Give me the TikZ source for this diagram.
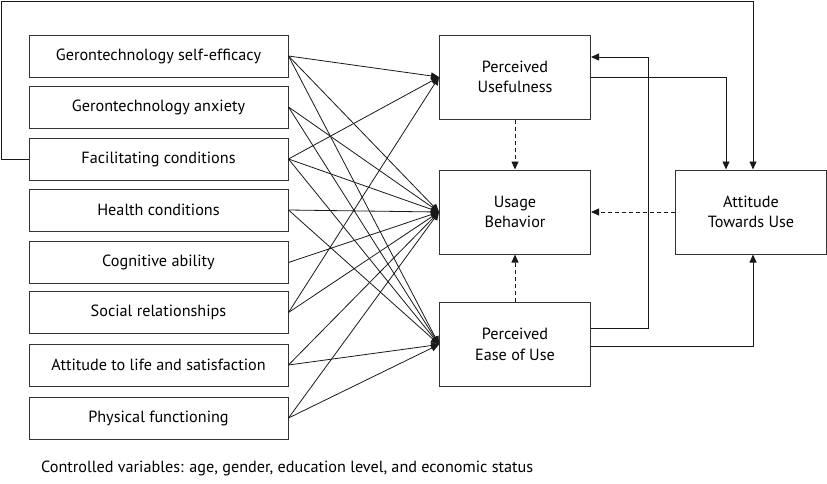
\documentclass[tikz,border=0pt]{standalone}
\usepackage{fontspec}
\setmainfont{PT Sans}
\usetikzlibrary{arrows.meta}

\begin{document}
\begin{tikzpicture}[x=1pt, y=-1pt,
    factor/.style={draw=black!80, line width=1pt, minimum width=259pt, minimum height=42pt,
      inner sep=0pt, font=\fontsize{16.2}{20.5}\selectfont},
    construct/.style={draw=black!80, line width=1pt, minimum width=151pt, minimum height=84pt,
      inner sep=0pt, align=center, font=\fontsize{16.2}{20.5}\selectfont},
    link/.style={draw=black!90, line width=0.8pt, -{Triangle[length=8pt,width=7pt]}},
    weak/.style={link, dash pattern=on 4pt off 3pt}]
  \useasboundingbox (0,0) rectangle (827,483);

  % factors on the left
  \node[factor] (selfeff) at (158.5,56) {Gerontechnology self-efficacy};
  \node[factor] (anxiety) at (158.5,107) {Gerontechnology anxiety};
  \node[factor] (facil) at (158.5,159) {Facilitating conditions};
  \node[factor] (health) at (158.5,210) {Health conditions};
  \node[factor] (cognit) at (158.5,262.5) {Cognitive ability};
  \node[factor] (social) at (158.5,312.5) {Social relationships};
  \node[factor] (life) at (158.5,365) {Attitude to life and satisfaction};
  \node[factor] (physic) at (158.5,418) {Physical functioning};

  % model constructs
  \node[construct] (pu) at (515,77) {Perceived\\Usefulness};
  \node[construct] (ub) at (515,212) {Usage\\Behavior};
  \node[construct] (peou) at (515,344.5) {Perceived\\Ease of Use};
  \node[construct] (atu) at (751,212) {Attitude\\Towards Use};

  \node[anchor=west, inner sep=0pt, font=\fontsize{16.2}{20.5}\selectfont] (note) at (41,468)
    {Controlled variables: age, gender, education level, and economic status};

  % factors to constructs
  \foreach \a/\b in {selfeff/pu, selfeff/ub, selfeff/peou, anxiety/ub, anxiety/peou,
      facil/pu, facil/ub, facil/peou, health/ub, health/peou, cognit/ub,
      social/pu, social/ub, life/ub, life/peou, physic/ub, physic/peou}
    \draw[link] (\a.east) -- (\b.west);

  % paths between constructs
  \draw[link] (pu.east) -| ([xshift=-25pt]atu.north);
  \draw[link] ([yshift=16.5pt]peou.east) -- ++(57,0) |- ([yshift=20pt]pu.east);
  \draw[link] ([yshift=-1.5pt]peou.east) -| ([xshift=2pt]atu.south);
  \coordinate (corner) at (1,1);
  \draw[link] (facil.west) -| (corner) -| ([xshift=2pt]atu.north);

  % dashed paths into usage behavior
  \draw[weak] (pu.south) -- (ub.north);
  \draw[weak] (peou.north) -- (ub.south);
  \draw[weak] (atu.west) -- (ub.east);
\end{tikzpicture}
\end{document}
